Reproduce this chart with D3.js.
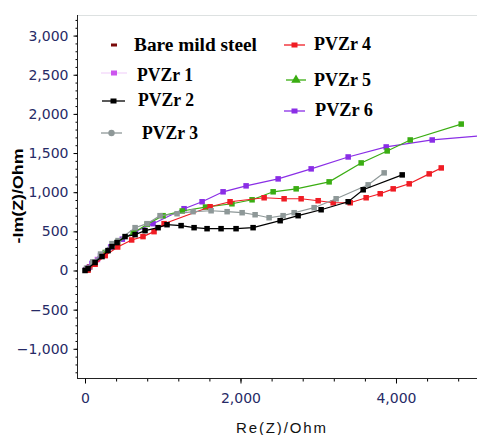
<!DOCTYPE html>
<html>
<head>
<meta charset="utf-8">
<script src="https://cdn.jsdelivr.net/npm/d3@7"></script>
<style>
  body { margin: 0; background: #fff; }
  svg { display: block; }
</style>
</head>
<body>
<div id="chart"></div>
<script>
// Nyquist data, [Re(Z), -Im(Z)] in Ohm
var bareSteel = [[10, 5], [30, 20], [60, 45], [100, 80]];
var pvzr1 = [[15, 10], [50, 40], [100, 90], [160, 140]];
var pvzr2 = [[0, 0], [39, 25], [129, 102], [219, 178], [296, 254], [347, 305], [412, 356], [515, 433],
  [644, 458], [772, 509], [940, 547], [1055, 585], [1236, 573], [1403, 547], [1570, 534], [1750, 534],
  [1943, 534], [2162, 547], [2510, 636], [2741, 700], [3037, 776], [3385, 878], [3578, 1031], [4080, 1221]];
var pvzr3 = [[20, 30], [100, 110], [200, 210], [347, 343], [425, 382], [644, 547], [798, 598], [965, 700],
  [1184, 725], [1390, 751], [1622, 763], [1828, 751], [2021, 738], [2188, 712], [2368, 674], [2548, 700],
  [2690, 738], [2947, 802], [3230, 916], [3642, 1094], [3848, 1247]];
var pvzr4 = [[40, 5], [130, 80], [260, 190], [420, 300], [600, 390], [746, 433], [888, 496], [1017, 598],
  [1609, 814], [1866, 878], [2304, 929], [2561, 916], [2780, 916], [2999, 891], [3192, 865], [3411, 865],
  [3616, 929], [3797, 980], [3964, 1043], [4170, 1107], [4427, 1234], [4582, 1310]];
var pvzr5 = [[30, 10], [120, 100], [260, 230], [420, 360], [620, 480], [800, 590], [1004, 700], [1250, 760],
  [1550, 810], [1890, 852], [2149, 903], [2420, 1005], [2716, 1043], [3140, 1132], [3552, 1374], [3887, 1527],
  [4183, 1667], [4839, 1870]];
var pvzr6 = [[20, 15], [90, 90], [200, 190], [330, 300], [480, 400], [650, 500], [875, 598], [1274, 789],
  [1506, 878], [1776, 1005], [2072, 1081], [2484, 1170], [2909, 1298], [3385, 1450], [3874, 1578],
  [4466, 1667], [5100, 1720]];

var seriesNames = ["Bare mild steel", "PVZr 1", "PVZr 2", "PVZr 3", "PVZr 4", "PVZr 5", "PVZr 6"];
var seriesData = [bareSteel, pvzr1, pvzr2, pvzr3, pvzr4, pvzr5, pvzr6];
var seriesColors = ["#7a0a0a", "#cc55ee", "#000000", "#8e9898", "#f01c24", "#3aad12", "#8a2ee6"];
var drawOrder = [0, 1, 6, 5, 4, 3, 2];

var yMajorTicks = [-1000, -500, 0, 500, 1000, 1500, 2000, 2500, 3000];
var xMajorTicks = [0, 2000, 4000];

var width = 477,
    height = 435;

var svg = d3.select("#chart").append("svg")
    .attr("width", width)
    .attr("height", height);

var x = d3.scaleLinear().domain([-103, 5042]).range([77, 477]);
var y = d3.scaleLinear().domain([-1373, 3263]).range([378, 15]);

// frame: light top line
svg.append("line")
    .attr("x1", 77).attr("x2", 477).attr("y1", 15.5).attr("y2", 15.5)
    .style("stroke", "#dde1e1").style("stroke-width", 1);

// y axis with minor ticks every 100
var yMinor = d3.range(-1300, 3300, 100);
svg.append("g")
    .attr("transform", "translate(77.5,0)")
    .call(d3.axisLeft(y).tickValues(yMinor).tickSize(2).tickFormat(""))
    .call(function(g) { g.select(".domain").remove(); });
var yAxis = svg.append("g")
    .attr("transform", "translate(77.5,0)")
    .call(d3.axisLeft(y).tickValues(yMajorTicks).tickSize(4).tickPadding(5).tickFormat(d3.format(",")));
yAxis.select(".domain").attr("d", "M0," + 15 + "V" + 378).style("stroke", "#222");
yAxis.selectAll("text")
    .style("font-family", "DejaVu Sans, sans-serif")
    .style("font-size", "14px")
    .style("fill", "#262a66");

// x axis with minor ticks every 400
var xMinor = d3.range(0, 5042, 400);
svg.append("g")
    .attr("transform", "translate(0,378.5)")
    .call(d3.axisBottom(x).tickValues(xMinor).tickSize(3).tickFormat(""))
    .call(function(g) { g.select(".domain").remove(); });
var xAxis = svg.append("g")
    .attr("transform", "translate(0,378.5)")
    .call(d3.axisBottom(x).tickValues(xMajorTicks).tickSize(5).tickPadding(10).tickFormat(d3.format(",")));
xAxis.select(".domain").attr("d", "M77,0H477").style("stroke", "#222");
xAxis.selectAll("text")
    .style("font-family", "DejaVu Sans, sans-serif")
    .style("font-size", "14px")
    .style("fill", "#262a66");

// axis titles
svg.append("text")
    .attr("transform", "translate(23,196) rotate(-90)")
    .attr("text-anchor", "middle")
    .attr("textLength", 95)
    .attr("lengthAdjust", "spacingAndGlyphs")
    .style("font-family", "Liberation Sans, Arial, sans-serif")
    .style("font-weight", "bold")
    .style("font-size", "14px")
    .text("-Im(Z)/Ohm");

svg.append("text")
    .attr("x", 236)
    .attr("y", 433)
    .attr("textLength", 90)
    .attr("lengthAdjust", "spacing")
    .style("font-family", "Liberation Sans, Arial, sans-serif")
    .style("font-size", "15px")
    .style("fill", "#111")
    .text("Re(Z)/Ohm");

// data
var clip = svg.append("clipPath").attr("id", "plotClip")
  .append("rect").attr("x", 78).attr("y", 16).attr("width", 400).attr("height", 362);

var plot = svg.append("g").attr("clip-path", "url(#plotClip)");
var line = d3.line()
    .x(function(d) { return x(d[0]); })
    .y(function(d) { return y(d[1]); });

var markerSize = 5.5;
drawOrder.forEach(function(i) {
  var g = plot.append("g");
  g.append("path")
      .datum(seriesData[i])
      .attr("d", line)
      .style("fill", "none")
      .style("stroke", seriesColors[i])
      .style("stroke-width", 1.2);
  g.selectAll("rect")
      .data(seriesData[i])
      .enter().append("rect")
      .attr("x", function(d) { return x(d[0]) - markerSize / 2; })
      .attr("y", function(d) { return y(d[1]) - markerSize / 2; })
      .attr("width", markerSize)
      .attr("height", markerSize)
      .style("fill", seriesColors[i]);
});

// legend (two columns, placed like the original)
var legendSpots = [
  { lx: [108, 120], my: 45, tx: 134, ty: 51, tw: 123, line: false },
  { lx: [101, 127], my: 73, tx: 137, ty: 81, tw: 56, line: true },
  { lx: [102, 125], my: 101, tx: 138, ty: 106, tw: 56, line: true },
  { lx: [101, 122], my: 133, tx: 142, ty: 139, tw: 56, line: true },
  { lx: [284, 305], my: 45, tx: 314, ty: 50, tw: 57, line: true },
  { lx: [286, 306], my: 80, tx: 314, ty: 86, tw: 57, line: true },
  { lx: [284, 305], my: 111, tx: 315, ty: 116, tw: 58, line: true }
];
var legend = svg.append("g").attr("class", "legend");
legendSpots.forEach(function(s, i) {
  var cx = (s.lx[0] + s.lx[1]) / 2;
  if (s.line) {
    legend.append("line")
        .attr("x1", s.lx[0]).attr("x2", s.lx[1])
        .attr("y1", s.my).attr("y2", s.my)
        .style("stroke", seriesColors[i])
        .style("stroke-width", i === 1 ? 0.6 : 1.3)
        .style("opacity", i === 1 ? 0.5 : 1);
  }
  if (i === 3) {
    legend.append("circle").attr("cx", cx).attr("cy", s.my).attr("r", 3.2).style("fill", seriesColors[i]);
  } else if (i === 5) {
    legend.append("path")
        .attr("transform", "translate(" + cx + "," + s.my + ")")
        .attr("d", d3.symbol().type(d3.symbolTriangle).size(40))
        .style("fill", seriesColors[i]);
  } else if (i === 0) {
    legend.append("rect").attr("x", cx - 3).attr("y", s.my - 1.5).attr("width", 6).attr("height", 3)
        .style("fill", seriesColors[i]);
  } else {
    legend.append("rect").attr("x", cx - 3).attr("y", s.my - 2.5).attr("width", 6).attr("height", 5)
        .style("fill", seriesColors[i]);
  }
  legend.append("text")
      .attr("x", s.tx)
      .attr("y", s.ty)
      .attr("textLength", s.tw)
      .attr("lengthAdjust", "spacingAndGlyphs")
      .style("font-family", "Liberation Serif, Times New Roman, serif")
      .style("font-weight", "bold")
      .style("font-size", "18px")
      .style("fill", "#000")
      .text(seriesNames[i]);
});
</script>
</body>
</html>
